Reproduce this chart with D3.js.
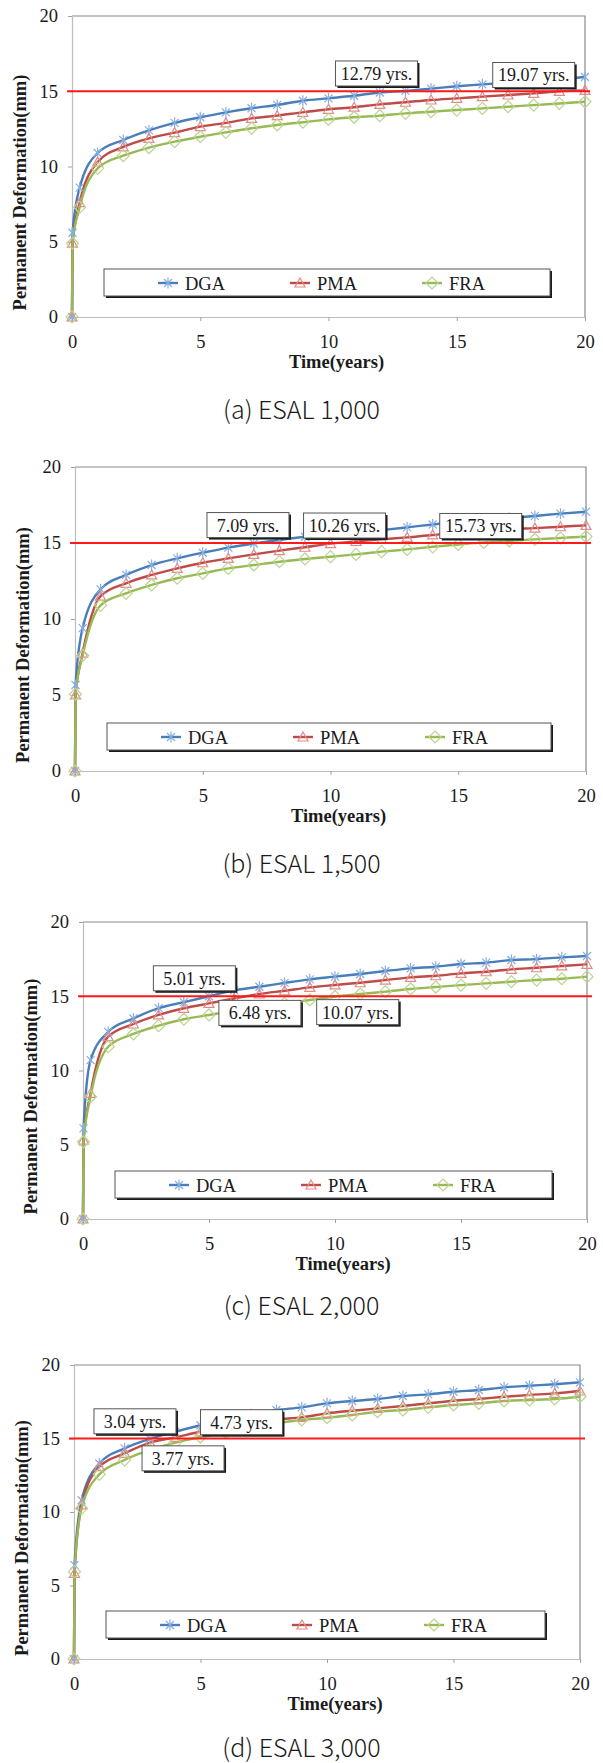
<!DOCTYPE html>
<html>
<head>
<meta charset="utf-8">
<script src="https://cdn.jsdelivr.net/npm/d3@7"></script>
<style>
body { margin: 0; background: #fff; }
svg text { font-family: 'Liberation Serif', 'Times New Roman', serif; fill: #1a1a1a; }
.panelTitle { font-family: 'Noto Sans CJK KR', 'Noto Sans', sans-serif; font-weight: 300; }
</style>
</head>
<body>
<div id="chart"></div>
<script>
//time axis (years) - same sampling for every series
var years = [0, 0.02, 0.3, 1, 2, 3, 4, 5, 6, 7, 8, 9, 10, 11, 12, 13, 14, 15, 16, 17, 18, 19, 20];

var seriesNames = ['DGA', 'PMA', 'FRA'];
var panelTitles = ['(a) ESAL 1,000', '(b) ESAL 1,500', '(c) ESAL 2,000', '(d) ESAL 3,000'];
var xTicks = [0, 5, 10, 15, 20];
var yTicks = [0, 5, 10, 15, 20];
var limitValue = 15;

//(a) ESAL 1,000
var dgaA = [0, 5.6, 8.6, 10.9, 11.76, 12.4, 12.9, 13.27, 13.6, 13.87, 14.09, 14.37, 14.53, 14.7, 14.92, 15.02, 15.17, 15.33, 15.46, 15.57, 15.68, 15.8, 15.95];
var pmaA = [0, 4.9, 7.6, 10.3, 11.3, 11.87, 12.25, 12.65, 12.9, 13.2, 13.38, 13.6, 13.8, 13.94, 14.13, 14.27, 14.42, 14.53, 14.64, 14.75, 14.86, 14.99, 15.06];
var fraA = [0, 4.9, 7.3, 9.88, 10.72, 11.25, 11.65, 11.98, 12.27, 12.54, 12.76, 12.94, 13.13, 13.27, 13.38, 13.53, 13.64, 13.75, 13.86, 13.97, 14.08, 14.19, 14.3];

//(b) ESAL 1,500
var dgaB = [0, 5.66, 9.4, 11.95, 12.9, 13.55, 13.99, 14.36, 14.7, 14.97, 15.2, 15.41, 15.55, 15.7, 15.85, 16.03, 16.22, 16.4, 16.52, 16.65, 16.78, 16.93, 17.06];
var pmaB = [0, 5.0, 7.76, 11.5, 12.35, 12.9, 13.33, 13.7, 13.99, 14.25, 14.5, 14.72, 14.96, 15.1, 15.24, 15.37, 15.53, 15.65, 15.78, 15.9, 15.98, 16.07, 16.16];
var fraB = [0, 5.05, 7.6, 10.9, 11.69, 12.24, 12.68, 13.0, 13.33, 13.55, 13.77, 13.95, 14.1, 14.25, 14.43, 14.58, 14.75, 14.9, 15.04, 15.14, 15.24, 15.33, 15.42];

//(c) ESAL 2,000
var dgaC = [0, 6.1, 10.7, 12.6, 13.5, 14.2, 14.6, 15.0, 15.4, 15.64, 15.9, 16.14, 16.32, 16.5, 16.7, 16.88, 16.99, 17.17, 17.26, 17.44, 17.5, 17.62, 17.71];
var pmaC = [0, 5.32, 8.46, 12.28, 13.13, 13.74, 14.19, 14.52, 14.85, 15.15, 15.37, 15.6, 15.76, 15.91, 16.09, 16.27, 16.38, 16.54, 16.65, 16.81, 16.92, 17.04, 17.15];
var fraC = [0, 5.2, 8.24, 11.6, 12.46, 13.02, 13.45, 13.74, 14.03, 14.3, 14.52, 14.75, 14.98, 15.15, 15.31, 15.49, 15.62, 15.75, 15.87, 15.98, 16.09, 16.18, 16.32];

//(d) ESAL 3,000
var dgaD = [0, 6.39, 10.8, 13.3, 14.33, 14.98, 15.46, 15.9, 16.3, 16.65, 16.94, 17.12, 17.39, 17.55, 17.69, 17.89, 18.0, 18.18, 18.3, 18.48, 18.59, 18.69, 18.82];
var pmaD = [0, 5.83, 10.48, 13.08, 13.99, 14.72, 15.08, 15.46, 15.8, 16.07, 16.3, 16.44, 16.71, 16.89, 17.05, 17.21, 17.39, 17.57, 17.69, 17.84, 17.96, 18.07, 18.23];
var fraD = [0, 5.94, 10.25, 12.56, 13.54, 14.22, 14.72, 15.1, 15.42, 15.7, 16.03, 16.26, 16.41, 16.6, 16.82, 16.94, 17.12, 17.28, 17.39, 17.55, 17.62, 17.69, 17.84];

//text boxes: label, year and deformation where the box is centred
var notesA = [['12.79 yrs.', 11.87, 16.18], ['19.07 yrs.', 18.0, 16.08]];
var notesB = [['7.09 yrs.', 6.77, 16.18], ['10.26 yrs.', 10.55, 16.15], ['15.73 yrs.', 15.88, 16.12]];
var notesC = [['5.01 yrs.', 4.42, 16.21], ['6.48 yrs.', 7.02, 13.88], ['10.07 yrs.', 10.9, 13.93]];
var notesD = [['3.04 yrs.', 2.41, 16.17], ['4.73 yrs.', 6.62, 16.11], ['3.77 yrs.', 4.31, 13.65]];

var panelData = [[dgaA, pmaA, fraA], [dgaB, pmaB, fraB], [dgaC, pmaC, fraC], [dgaD, pmaD, fraD]];
var panelNotes = [notesA, notesB, notesC, notesD];

//plot-area placement of the four panels (pixels)
var layout = [
    {left: 72, right: 585, top: 16, bottom: 317, title: 419},
    {left: 75, right: 586, top: 467, bottom: 771, title: 873},
    {left: 83, right: 587, top: 922, bottom: 1219, title: 1315},
    {left: 74, right: 580, top: 1365, bottom: 1659, title: 1757}
];

var lineColors = ['#4A7EBB', '#BE4B48', '#98B954'];
var markColors = ['#86AEE0', '#E48A88', '#B9D68E'];

var svg = d3
    .select('#chart')
    .append('svg')
    .attr('width', 603)
    .attr('height', 1763);

//marker shapes
function markerPath(i) {
    if (i === 0) {
        //asterisk
        var r = 5.5, d = 4;
        return 'M0,' + (-r) + 'L0,' + r +
            'M' + (-d) + ',' + (-d) + 'L' + d + ',' + d +
            'M' + (-d) + ',' + d + 'L' + d + ',' + (-d);
    }
    else if (i === 1) {
        //open triangle
        return 'M0,-5L5,4L-5,4Z';
    }
    //open diamond
    return 'M0,-6L6,0L0,6L-6,0Z';
}

//box with a dark drop shadow, like the excel text boxes
function shadowBox(g, x, y, w, h) {
    g.append('rect')
        .attr('x', x + 2)
        .attr('y', y + 2)
        .attr('width', w)
        .attr('height', h)
        .attr('fill', '#1a1a1a');
    g.append('rect')
        .attr('x', x)
        .attr('y', y)
        .attr('width', w)
        .attr('height', h)
        .attr('fill', '#fff')
        .attr('stroke', '#555')
        .attr('stroke-width', 1);
}

function drawPanel(p, series, notes, title) {
    var g = svg.append('g');

    var xScale = d3.scaleLinear().domain([0, 20]).range([p.left, p.right]);
    var yScale = d3.scaleLinear().domain([0, 20]).range([p.bottom, p.top]);

    //top and right frame
    g.append('path')
        .attr('d', 'M' + p.left + ',' + p.top + 'H' + p.right + 'V' + p.bottom)
        .attr('fill', 'none')
        .attr('stroke', '#8a8a8a')
        .attr('stroke-width', 1.2);

    //axes
    var yAxis = d3.axisLeft(yScale).tickValues(yTicks).tickSize(4).tickSizeOuter(0).tickPadding(10);
    var xAxis = d3.axisBottom(xScale).tickValues(xTicks).tickSize(4).tickSizeOuter(0).tickPadding(14);

    var ya = g.append('g')
        .attr('transform', 'translate(' + p.left + ',0)')
        .call(yAxis);
    var xa = g.append('g')
        .attr('transform', 'translate(0,' + p.bottom + ')')
        .call(xAxis);

    [ya, xa].forEach(function(a) {
        a.select('.domain').attr('stroke', '#bdbdbd').attr('stroke-width', 1.2);
        a.selectAll('.tick line').attr('stroke', '#a0a0a0');
        a.selectAll('.tick text')
            .attr('font-size', 18.5)
            .attr('font-family', "'Liberation Serif', serif")
            .attr('fill', '#1a1a1a');
    });

    //axis titles
    g.append('text')
        .attr('x', (p.left + p.right) / 2 + 8)
        .attr('y', p.bottom + 51)
        .attr('text-anchor', 'middle')
        .attr('font-size', 18.5)
        .attr('font-weight', 'bold')
        .text('Time(years)');

    g.append('text')
        .attr('transform', 'translate(' + (p.left - 46) + ',' + ((p.top + p.bottom) / 2 + 26) + ')rotate(-90)')
        .attr('text-anchor', 'middle')
        .attr('font-size', 18.5)
        .attr('font-weight', 'bold')
        .text('Permanent Deformation(mm)');

    //curves
    var line = d3.line()
        .x(function(d, i) { return xScale(years[i]); })
        .y(function(d) { return yScale(d); })
        .curve(d3.curveMonotoneX);

    series.forEach(function(vals, s) {
        g.append('path')
            .datum(vals)
            .attr('d', line)
            .attr('fill', 'none')
            .attr('stroke', lineColors[s])
            .attr('stroke-width', 2.4);
    });

    series.forEach(function(vals, s) {
        g.selectAll('.mk' + s)
            .data(vals)
            .enter()
            .append('path')
            .attr('class', 'mk' + s)
            .attr('transform', function(d, i) {
                return 'translate(' + xScale(years[i]) + ',' + yScale(d) + ')';
            })
            .attr('d', markerPath(s))
            .attr('fill', 'none')
            .attr('stroke', markColors[s])
            .attr('stroke-width', 1.2);
    });

    //15 mm limit
    g.append('line')
        .attr('x1', p.left - 5)
        .attr('x2', p.right + 5)
        .attr('y1', yScale(limitValue))
        .attr('y2', yScale(limitValue))
        .attr('stroke', '#ff1a1a')
        .attr('stroke-width', 2);

    //legend
    var lx = p.left + 32;
    var lw = (p.right - p.left) - 67;
    var ly = p.bottom - 48;
    shadowBox(g, lx, ly, lw, 27);

    seriesNames.forEach(function(name, s) {
        var ix = lx + 54 + s * 132;
        var iy = ly + 14;
        g.append('line')
            .attr('x1', ix)
            .attr('x2', ix + 20)
            .attr('y1', iy)
            .attr('y2', iy)
            .attr('stroke', lineColors[s])
            .attr('stroke-width', 2.4);
        g.append('path')
            .attr('transform', 'translate(' + (ix + 10) + ',' + iy + ')')
            .attr('d', markerPath(s))
            .attr('fill', 'none')
            .attr('stroke', markColors[s])
            .attr('stroke-width', 1.2);
        g.append('text')
            .attr('x', ix + 27)
            .attr('y', iy + 6.5)
            .attr('font-size', 18.5)
            .text(name);
    });

    //year boxes
    notes.forEach(function(n) {
        var cx = xScale(n[1]);
        var cy = yScale(n[2]);
        shadowBox(g, cx - 41, cy - 12.5, 82, 25);
        g.append('text')
            .attr('x', cx)
            .attr('y', cy + 6.5)
            .attr('text-anchor', 'middle')
            .attr('font-size', 18)
            .text(n[0]);
    });

    //panel caption
    svg.append('text')
        .attr('class', 'panelTitle')
        .attr('x', 301.5)
        .attr('y', p.title)
        .attr('text-anchor', 'middle')
        .attr('font-size', 25)
        .text(title);
}

layout.forEach(function(p, k) {
    drawPanel(p, panelData[k], panelNotes[k], panelTitles[k]);
});
</script>
</body>
</html>
